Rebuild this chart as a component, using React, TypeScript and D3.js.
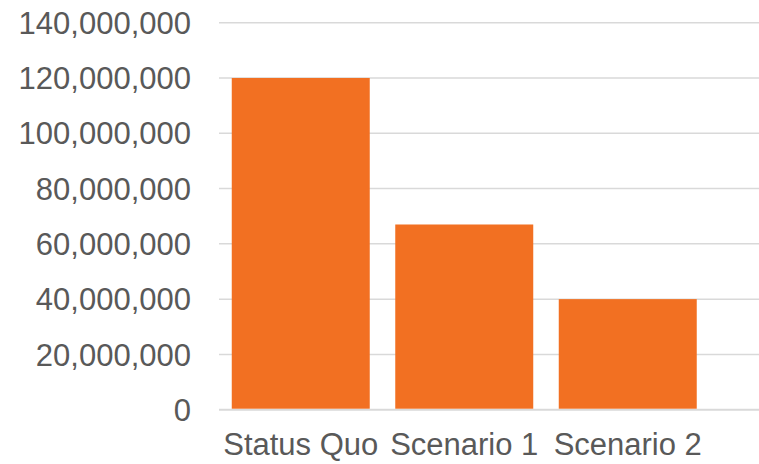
import * as d3 from "d3";
import { useRef, useEffect } from "react";

const categories = ["Status Quo", "Scenario 1", "Scenario 2"];
const values = [120000000, 67000000, 40000000];
const yTicks = [0, 20000000, 40000000, 60000000, 80000000, 100000000, 120000000, 140000000];

const width = 759;
const height = 464;

export default function App() {
    const chartRef = useRef<SVGGElement>(null);

    useEffect(() => {
        const g = d3.select(chartRef.current);
        g.selectAll("*").remove(); // Clear before re-rendering

        const xScale = d3.scaleBand()
            .domain(categories)
            .range([219, 709.5])
            .paddingInner(0.156)
            .paddingOuter(0.078);

        const yScale = d3.scaleLinear()
            .domain([0, 140000000])
            .range([409.7, 22.7]);

        // gridlines
        g.selectAll(".grid")
            .data(yTicks)
            .join("line")
            .attr("class", "grid")
            .attr("x1", 219)
            .attr("x2", width)
            .attr("y1", d => yScale(d))
            .attr("y2", d => yScale(d))
            .attr("stroke", "#d9d9d9")
            .attr("stroke-width", d => (d === 0 ? 2 : 1.5));

        // y labels
        g.selectAll(".ylabel")
            .data(yTicks)
            .join("text")
            .attr("class", "ylabel")
            .attr("x", 191)
            .attr("y", d => yScale(d))
            .attr("dy", "0.36em")
            .attr("text-anchor", "end")
            .attr("fill", "#595959")
            .attr("font-size", 31)
            .text(d => d3.format(",")(d));

        // bars
        g.selectAll(".bar")
            .data(values)
            .join("rect")
            .attr("class", "bar")
            .attr("x", (_, i) => xScale(categories[i]) ?? 0)
            .attr("width", xScale.bandwidth())
            .attr("y", d => yScale(d))
            .attr("height", d => yScale(0) - 1 - yScale(d))
            .attr("fill", "#f27022");

        // x labels
        g.selectAll(".xlabel")
            .data(categories)
            .join("text")
            .attr("class", "xlabel")
            .attr("x", d => (xScale(d) ?? 0) + xScale.bandwidth() / 2)
            .attr("y", 455)
            .attr("text-anchor", "middle")
            .attr("fill", "#595959")
            .attr("font-size", 31)
            .text(d => d);
    }, []);

    return (
        <svg
            width={width}
            height={height}
            style={{ position: "absolute", left: 0, top: 0, fontFamily: "'Liberation Sans', Arial, sans-serif" }}
        >
            <rect width={width} height={height} fill="#ffffff" />
            <g ref={chartRef}></g>
        </svg>
    );
}
